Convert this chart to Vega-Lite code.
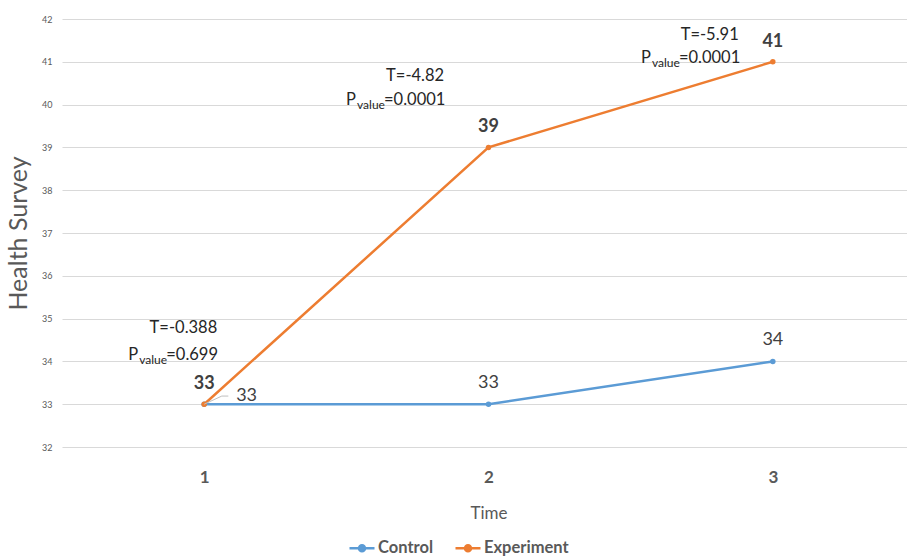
{
  "$schema": "https://vega.github.io/schema/vega-lite/v6.json",
  "width": 853,
  "height": 428,
  "autosize": {"type": "none"},
  "padding": {"left": 62, "top": 19, "right": 0, "bottom": 110},
  "background": "white",
  "config": {
    "font": "Lato",
    "view": {"stroke": null},
    "axis": {"labelColor": "#595959", "titleColor": "#595959"}
  },
  "datasets": {
    "series": [
      {"Time": 1, "Group": "Control", "Score": 33},
      {"Time": 2, "Group": "Control", "Score": 33},
      {"Time": 3, "Group": "Control", "Score": 34},
      {"Time": 1, "Group": "Experiment", "Score": 33},
      {"Time": 2, "Group": "Experiment", "Score": 39},
      {"Time": 3, "Group": "Experiment", "Score": 41}
    ],
    "stats": [
      {"tx": 1.046, "ty": 34.78, "px": 0.733, "py": 34.15, "t": "T=-0.388", "p": "=0.699"},
      {"tx": 1.844, "ty": 40.67, "px": 1.499, "py": 40.11, "t": "T=-4.82", "p": "=0.0001"},
      {"tx": 2.88, "ty": 41.63, "px": 2.536, "py": 41.09, "t": "T=-5.91", "p": "=0.0001"}
    ],
    "leader": [
      {"lx": 1.0, "ly": 33.0, "k": 0},
      {"lx": 1.062, "ly": 33.19, "k": 1},
      {"lx": 1.085, "ly": 33.19, "k": 2}
    ]
  },
  "layer": [
    {
      "data": {"name": "series"},
      "mark": {"type": "line", "strokeWidth": 2.5, "point": {"size": 30, "filled": true}},
      "encoding": {
        "x": {
          "field": "Time", "type": "quantitative",
          "scale": {"domain": [0.5, 3.5], "nice": false},
          "axis": {
            "values": [1, 2, 3], "format": "d", "grid": false, "domain": false, "ticks": false,
            "labelFontSize": 17, "labelFontWeight": "bold", "labelPadding": 22,
            "title": "Time", "titleFontSize": 17, "titleFontWeight": "normal", "titlePadding": 20
          }
        },
        "y": {
          "field": "Score", "type": "quantitative",
          "scale": {"domain": [32, 42], "nice": false, "zero": false},
          "axis": {
            "values": [32, 33, 34, 35, 36, 37, 38, 39, 40, 41, 42],
            "domain": false, "ticks": false, "gridColor": "#D9D9D9", "gridWidth": 1,
            "labelFontSize": 9, "labelPadding": 10,
            "title": "Health Survey", "titleFontSize": 25, "titleFontWeight": "normal", "titlePadding": 10
          }
        },
        "color": {
          "field": "Group", "type": "nominal",
          "scale": {"domain": ["Control", "Experiment"], "range": ["#5B9BD5", "#ED7D31"]},
          "legend": {
            "title": null, "orient": "none", "direction": "horizontal",
            "legendX": 286, "legendY": 515,
            "symbolType": "M-1,0H1M-0.24,0A0.24,0.24 0 1,0 0.24,0A0.24,0.24 0 1,0 -0.24,0",
            "symbolSize": 625, "symbolStrokeWidth": 2.5, "labelOffset": 2,
            "labelFontSize": 16.5, "labelFontWeight": "bold", "labelColor": "#595959",
            "labelBaseline": "middle",
            "columnPadding": 16,
            "encode": {"symbols": {"update": {"fill": {"scale": "color", "field": "value"}}}}
          }
        }
      }
    },
    {
      "data": {"name": "series"},
      "transform": [{"filter": "datum.Group == 'Experiment'"}],
      "mark": {"type": "text", "dy": -20, "fontSize": 18, "fontWeight": "bold", "color": "#404040"},
      "encoding": {
        "x": {"field": "Time", "type": "quantitative"},
        "y": {"field": "Score", "type": "quantitative"},
        "text": {"field": "Score"}
      }
    },
    {
      "data": {"name": "series"},
      "transform": [{"filter": "datum.Group == 'Control' && datum.Time > 1"}],
      "mark": {"type": "text", "dy": -21, "fontSize": 18, "color": "#404040"},
      "encoding": {
        "x": {"field": "Time", "type": "quantitative"},
        "y": {"field": "Score", "type": "quantitative"},
        "text": {"field": "Score"}
      }
    },
    {
      "data": {"name": "series"},
      "transform": [{"filter": "datum.Group == 'Control' && datum.Time == 1"}],
      "mark": {"type": "text", "dx": 32, "dy": -8, "align": "left", "fontSize": 18, "color": "#404040"},
      "encoding": {
        "x": {"field": "Time", "type": "quantitative"},
        "y": {"field": "Score", "type": "quantitative"},
        "text": {"field": "Score"}
      }
    },
    {
      "data": {"name": "leader"},
      "mark": {"type": "line", "color": "#BFBFBF", "strokeWidth": 1},
      "encoding": {
        "x": {"field": "lx", "type": "quantitative"},
        "y": {"field": "ly", "type": "quantitative"},
        "order": {"field": "k"}
      }
    },
    {
      "data": {"name": "stats"},
      "mark": {"type": "text", "align": "right", "baseline": "middle", "fontSize": 16.5, "color": "#262626"},
      "encoding": {
        "x": {"field": "tx", "type": "quantitative"},
        "y": {"field": "ty", "type": "quantitative"},
        "text": {"field": "t"}
      }
    },
    {
      "data": {"name": "stats"},
      "mark": {"type": "text", "align": "left", "baseline": "middle", "fontSize": 16.5, "color": "#262626"},
      "encoding": {
        "x": {"field": "px", "type": "quantitative"},
        "y": {"field": "py", "type": "quantitative"},
        "text": {"value": "P"}
      }
    },
    {
      "data": {"name": "stats"},
      "mark": {"type": "text", "align": "left", "baseline": "middle", "dx": 11, "dy": 5, "fontSize": 12, "color": "#262626"},
      "encoding": {
        "x": {"field": "px", "type": "quantitative"},
        "y": {"field": "py", "type": "quantitative"},
        "text": {"value": "value"}
      }
    },
    {
      "data": {"name": "stats"},
      "mark": {"type": "text", "align": "left", "baseline": "middle", "dx": 38, "fontSize": 16.5, "color": "#262626"},
      "encoding": {
        "x": {"field": "px", "type": "quantitative"},
        "y": {"field": "py", "type": "quantitative"},
        "text": {"field": "p"}
      }
    }
  ]
}
